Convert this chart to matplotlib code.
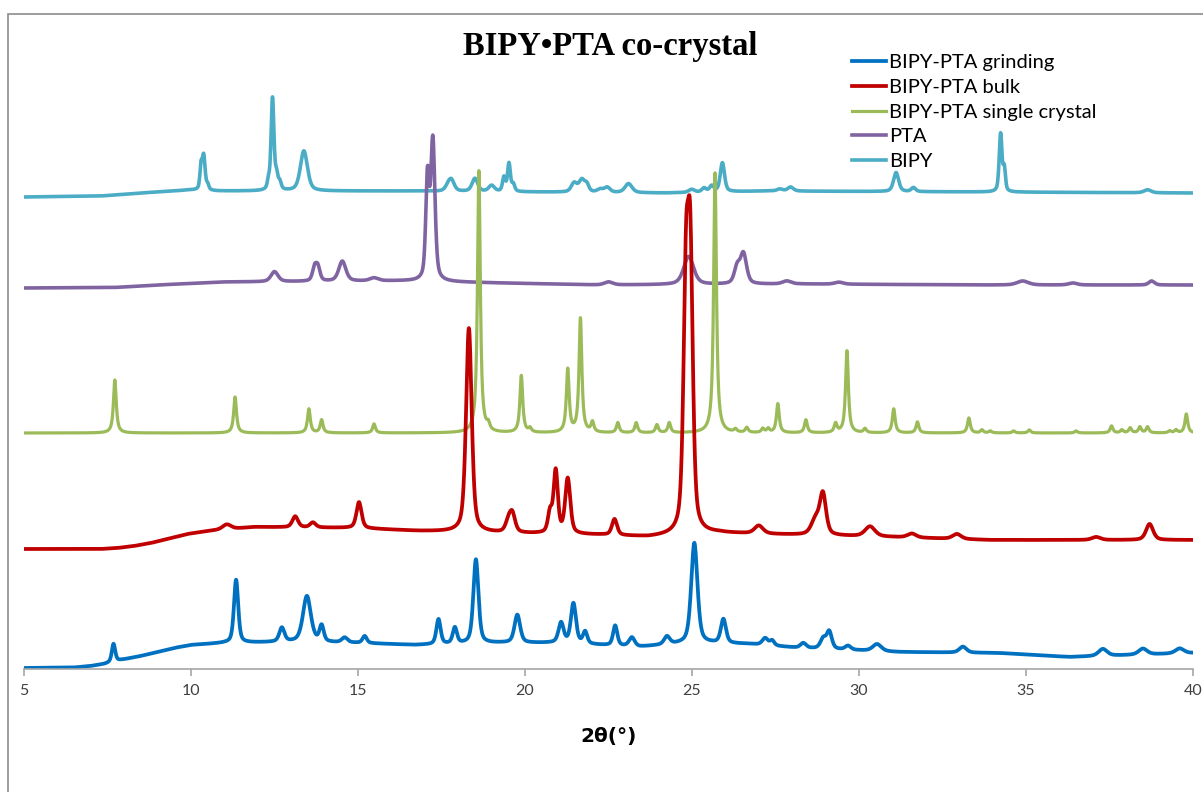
import matplotlib
matplotlib.use('Agg')
import matplotlib.pyplot as plt
import numpy as np
from matplotlib.patches import Rectangle

# ---- data (2theta in degrees, intensity in plot units) ----
labels = ['BIPY-PTA grinding', 'BIPY-PTA bulk', 'BIPY-PTA single crystal', 'PTA', 'BIPY']
colors = ['#0070C0', '#C00000', '#9BBB59', '#8064A2', '#4BACC6']

# background anchors (x, y) per trace
grind_bx = [5, 6.5, 7.0, 7.4, 7.9, 8.5, 9, 9.5, 10, 11, 13, 15, 16.7, 19.25, 21, 23.4, 25, 26.7, 28.2, 29.7, 31.2, 34.2, 36.3, 40]
grind_by = [1, 1.5, 3, 5, 9, 13, 17, 21, 24, 26, 27, 26, 24, 26, 26, 22, 26, 25, 21, 19, 17, 16, 12, 16]
bulk_bx = [5, 7.3, 7.8, 8.3, 8.8, 9.3, 9.9, 10.5, 11.2, 11.9, 14.9, 16.8, 19.25, 22.25, 23.7, 25.75, 28.2, 30.9, 33.9, 36.9, 40]
bulk_by = [120, 120, 121, 123, 126, 130, 135, 138, 140, 142, 141, 138, 136, 134, 132, 136, 134, 132, 129, 129, 129]
single_bx = [5, 40]
single_by = [236, 236]
pta_bx = [5, 7.7, 9, 10.9, 15.9, 16.3, 19.25, 22.25, 28.2, 33.9, 40]
pta_by = [381, 381.5, 384, 387, 388, 388, 386, 384, 385, 384, 384]
bipy_bx = [5, 7.3, 8.5, 9.97, 10.8, 16.3, 20.25, 24.2, 27.2, 33.9, 40]
bipy_by = [472, 473, 476, 479, 478, 478, 477, 476, 478, 477, 476]

# peaks: position, height above background, FWHM
grind_pos = [7.68, 11.35, 12.72, 13.47, 13.91, 14.6, 15.2, 17.41, 17.9, 18.53, 19.77, 21.08, 21.45, 21.8,
             22.7, 23.2, 24.25, 25.07, 25.94, 27.19, 27.4, 28.33, 28.93, 29.11, 29.67, 30.54, 33.11, 37.3, 38.5, 39.6]
grind_h = [18, 63, 14, 46, 16, 5, 7, 25, 16, 84, 28, 20, 40, 12,
           20, 9, 8, 100, 24, 7, 5, 5, 10, 17, 4, 7, 6, 7, 6, 5]
grind_w = [0.12, 0.15, 0.18, 0.28, 0.15, 0.2, 0.15, 0.15, 0.15, 0.18, 0.2, 0.18, 0.18, 0.15,
           0.15, 0.2, 0.2, 0.22, 0.18, 0.2, 0.15, 0.2, 0.2, 0.18, 0.2, 0.3, 0.25, 0.3, 0.3, 0.3]

bulk_pos = [11.07, 13.12, 13.65, 15.03, 18.32, 19.5, 19.62, 20.75, 20.92, 21.28, 22.68, 24.82, 24.95,
            27.0, 28.7, 28.92, 30.33, 31.58, 32.93, 37.1, 38.7]
bulk_h = [5, 11, 5, 26, 204, 10, 18, 20, 62, 55, 16, 238, 258, 8, 15, 40, 10, 4, 5, 3, 16]
bulk_w = [0.3, 0.2, 0.2, 0.18, 0.2, 0.2, 0.2, 0.15, 0.15, 0.18, 0.18, 0.18, 0.18,
          0.3, 0.3, 0.22, 0.35, 0.3, 0.3, 0.3, 0.25]

single_pos = [7.72, 11.32, 13.53, 13.91, 15.48, 18.62, 18.9, 19.89, 20.15, 21.28, 21.66, 22.02, 22.78, 23.33,
              23.95, 24.32, 25.69, 26.3, 26.64, 27.12, 27.28, 27.57, 28.41, 29.3, 29.64, 30.18, 31.04, 31.75,
              33.29, 33.68, 33.93, 34.63, 35.1, 36.5, 37.56, 37.87, 38.12, 38.41, 38.64, 39.3, 39.49, 39.8]
single_h = [53, 36, 24, 13, 9, 262, 6, 57, 4, 63, 114, 10, 10, 10,
            8, 10, 260, 3, 5, 4, 4, 29, 13, 9, 82, 4, 24, 11,
            15, 3, 2, 2, 3, 2, 7, 3, 5, 6, 6, 2, 3, 19]
single_w = [0.1] * len(single_pos)

pta_pos = [12.5, 13.7, 13.8, 14.53, 15.48, 17.08, 17.24, 22.5, 24.9, 26.35, 26.54, 27.84, 29.4, 34.9, 36.4, 38.76]
pta_h = [10, 13, 13, 20, 3, 100, 140, 3, 28, 16, 30, 3, 2, 4, 2, 4]
pta_w = [0.25, 0.15, 0.15, 0.25, 0.3, 0.12, 0.15, 0.3, 0.35, 0.2, 0.22, 0.3, 0.3, 0.4, 0.3, 0.2]

bipy_pos = [10.3, 10.38, 10.5, 12.32, 12.44, 12.56, 12.66, 13.38, 17.7, 17.8, 18.5, 19.0, 19.37, 19.52, 19.65,
            21.47, 21.7, 21.85, 22.25, 22.46, 23.1, 24.99, 25.36, 25.59, 25.91, 27.63, 27.95,
            31.11, 31.63, 34.24, 34.35, 38.64]
bipy_h = [22, 34, 5, 8, 92, 14, 7, 40, 5, 10, 13, 6, 14, 28, 7,
          9, 12, 7, 3, 5, 9, 3, 4, 6, 29, 2, 4,
          19, 4, 58, 22, 3]
bipy_w = [0.08, 0.1, 0.08, 0.08, 0.1, 0.1, 0.1, 0.25, 0.2, 0.2, 0.2, 0.2, 0.1, 0.1, 0.1,
          0.2, 0.2, 0.15, 0.2, 0.2, 0.25, 0.2, 0.15, 0.15, 0.15, 0.2, 0.2,
          0.18, 0.15, 0.1, 0.08, 0.25]

x = np.linspace(5, 40, 3501)


def trace(bx, by, pos, h, w, eta):
    y = np.interp(x, bx, by)
    for p, hh, ww in zip(pos, h, w):
        d = (x - p) / ww
        y = y + hh * (eta / (1 + 4 * d ** 2) + (1 - eta) * np.exp(-4 * np.log(2) * d ** 2))
    return y


curves = [
    trace(grind_bx, grind_by, grind_pos, grind_h, grind_w, 0.5),
    trace(bulk_bx, bulk_by, bulk_pos, bulk_h, bulk_w, 0.5),
    trace(single_bx, single_by, single_pos, single_h, single_w, 0.9),
    trace(pta_bx, pta_by, pta_pos, pta_h, pta_w, 0.5),
    trace(bipy_bx, bipy_by, bipy_pos, bipy_h, bipy_w, 0.5),
]
widths = [2.7, 2.7, 2.3, 2.6, 2.6]

W, H = 1203, 792
fig = plt.figure(figsize=(W / 100, H / 100), dpi=100)
ax = fig.add_axes([24 / W, 1 - 669 / H, (1193 - 24) / W, 669 / H])

handles = [None] * 5
for i in [4, 3, 2, 1, 0]:
    handles[i], = ax.plot(x, curves[i], color=colors[i], lw=widths[i], label=labels[i], solid_joinstyle='round')

ax.set_xlim(5, 40)
ax.set_ylim(0, 669)
ax.set_xticks([5, 10, 15, 20, 25, 30, 35, 40])
ax.set_yticks([])
for s in ['top', 'left', 'right']:
    ax.spines[s].set_visible(False)
ax.spines['bottom'].set_color('#A6A6A6')
ax.spines['bottom'].set_linewidth(1.2)
ax.tick_params(axis='x', direction='out', length=5, width=1.2, color='#A6A6A6',
               labelsize=11.5, labelcolor='#404040', pad=6)
for t in ax.get_xticklabels():
    t.set_family('Lato')

ax.set_xlabel('2θ(°)', fontsize=14.5, fontweight='bold', family='DejaVu Sans', labelpad=21, color='#000000')

fig.text(610 / W, 1 - 47 / H, 'BIPY•PTA co-crystal', ha='center', va='center',
         family='Liberation Serif', fontweight='bold', fontsize=23.5)

fig.legend(handles=[handles[i] for i in range(5)], labels=labels, loc='upper left',
           bbox_to_anchor=(852 / W, 1 - 54 / H),
           frameon=False, prop={'family': 'Lato', 'size': 14.5}, handlelength=1.7, handletextpad=0.15,
           labelspacing=0.38, borderpad=0, borderaxespad=0)

# outer chart border (cut off at right and bottom)
fig.add_artist(Rectangle((8 / W, -0.1), 1.2, 1.1 - 13.5 / H, transform=fig.transFigure,
                         fill=False, ec='#8C8C8C', lw=1.2))

fig.savefig('out.png', dpi=100)
